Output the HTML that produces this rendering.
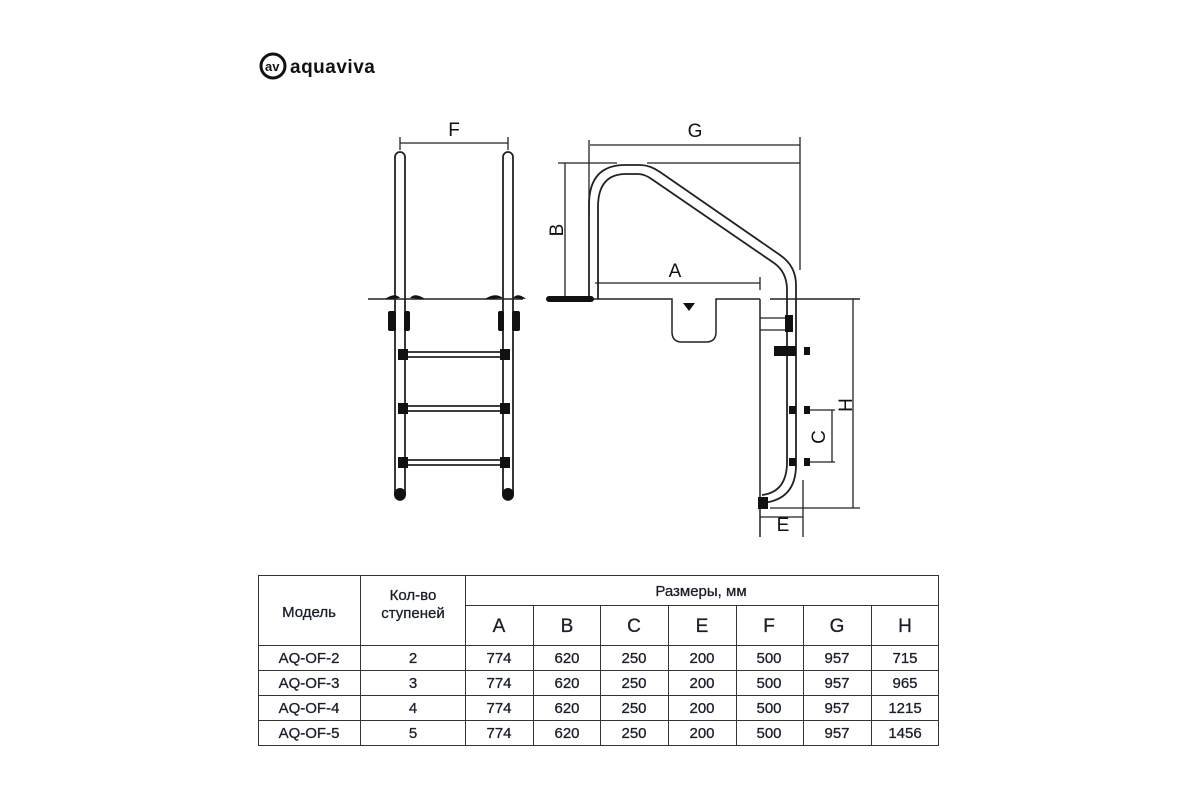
<!DOCTYPE html>
<html><head><meta charset="utf-8"><style>
body{margin:0;width:1200px;height:800px;background:#fff;overflow:hidden;font-family:"Liberation Sans",sans-serif}
svg{position:absolute;left:0;top:0}
</style></head><body>
<svg width="1200" height="800" viewBox="0 0 1200 800" font-family="Liberation Sans, sans-serif">
<!-- logo -->
<circle cx="273" cy="66" r="12" fill="none" stroke="#111" stroke-width="3"/>
<text x="265" y="71" font-size="13" font-weight="bold" fill="#111">av</text>
<text x="290" y="73" font-size="19" font-weight="bold" fill="#111" letter-spacing="0.5">aquaviva</text>

<g stroke="#222" fill="none" stroke-width="1.3">
<!-- FRONT VIEW -->
<line x1="400" y1="143" x2="508" y2="143"/>
<line x1="400" y1="137" x2="400" y2="150"/><line x1="508" y1="137" x2="508" y2="150"/>
<rect x="395" y="152" width="10" height="348" rx="5" stroke-width="1.8"/>
<rect x="503" y="152" width="10" height="348" rx="5" stroke-width="1.8"/>
<line x1="368" y1="299" x2="523" y2="299" stroke-width="1.5"/>
<g stroke-width="1.8">
<line x1="405" y1="352" x2="503" y2="352"/><line x1="405" y1="357" x2="503" y2="357"/>
<line x1="405" y1="406" x2="503" y2="406"/><line x1="405" y1="411" x2="503" y2="411"/>
<line x1="405" y1="460" x2="503" y2="460"/><line x1="405" y1="465" x2="503" y2="465"/>
</g>

<!-- SIDE VIEW -->
<line x1="590" y1="145" x2="800" y2="145"/>
<line x1="589" y1="140" x2="589" y2="215"/>
<line x1="800" y1="137" x2="800" y2="270"/>
<line x1="558" y1="163" x2="617" y2="163"/><line x1="647" y1="163" x2="800" y2="163"/>
<line x1="565" y1="163" x2="565" y2="299"/>
<line x1="595" y1="283" x2="760" y2="283"/><line x1="760" y1="277" x2="760" y2="290"/>
<path d="M593 299 H672 V332 Q672 342 682 342 H706 Q716 342 716 332 V299 H760" stroke-width="1.5"/>
<line x1="770" y1="299" x2="860" y2="299" stroke-width="1.5"/>
<line x1="760" y1="299" x2="760" y2="537" stroke-width="1.5"/>
<path d="M589 299 V205 Q589 165 625 165 H640 Q650 165 660 172 L780 255 Q796 266 796 285 V465 Q796 500 762 503" stroke-width="1.8"/>
<path d="M598 299 V207 Q598 174 626 174 H638 Q645 174 653 180 L774 263 Q787 272 787 290 V462 Q787 492 762 495" stroke-width="1.8"/>
<path d="M760 318 H788 M760 330 H788"/>
<line x1="853" y1="299" x2="853" y2="508"/>
<line x1="770" y1="508" x2="860" y2="508"/>
<line x1="832" y1="410" x2="832" y2="462"/>
<line x1="805" y1="410" x2="835" y2="410"/><line x1="805" y1="462" x2="835" y2="462"/>
<line x1="803" y1="480" x2="803" y2="537"/>
<line x1="760" y1="517" x2="803" y2="517"/>
</g>
<g fill="#111">
<rect x="388" y="311" width="8" height="20" rx="2"/><rect x="404" y="311" width="6" height="20" rx="2"/>
<rect x="498" y="311" width="6" height="20" rx="2"/><rect x="512" y="311" width="8" height="20" rx="2"/>
<path d="M385 299 Q395 292 400 298 Z M410 298 Q415 292 425 299 Z M485 299 Q495 292 503 298 Z M513 298 Q518 292 526 299 Z"/>
<rect x="398" y="349" width="10" height="11"/><rect x="500" y="349" width="10" height="11"/>
<rect x="398" y="403" width="10" height="11"/><rect x="500" y="403" width="10" height="11"/>
<rect x="398" y="457" width="10" height="11"/><rect x="500" y="457" width="10" height="11"/>
<circle cx="400" cy="494" r="6"/><circle cx="508" cy="494" r="6"/>
<rect x="546" y="296" width="48" height="6" rx="3"/>
<path d="M683 303 H695 L689 311 Z"/>
<rect x="785" y="315" width="8" height="17"/>
<rect x="774" y="346" width="22" height="10"/><rect x="804" y="347" width="6" height="8"/>
<rect x="789" y="406" width="7" height="8"/><rect x="804" y="406" width="6" height="8"/>
<rect x="789" y="458" width="7" height="8"/><rect x="804" y="458" width="6" height="8"/>
<rect x="758" y="497" width="10" height="12"/>
</g>
<g font-size="19" fill="#111" text-anchor="middle">
<text x="454" y="136">F</text>
<text x="695" y="137">G</text>
<text x="675" y="277">A</text>
<text x="783" y="531">E</text>
<text transform="translate(556,230) rotate(-90)" y="7">B</text>
<text transform="translate(845,405) rotate(-90)" y="7">H</text>
<text transform="translate(818,437) rotate(-90)" y="7">C</text>
</g>

<!-- TABLE -->
<g stroke="#333" stroke-width="1" fill="none">
<rect x="258.5" y="575.5" width="680" height="170"/>
<line x1="360.5" y1="575" x2="360.5" y2="746"/>
<line x1="465.5" y1="575" x2="465.5" y2="746"/>
<line x1="465" y1="605.5" x2="938" y2="605.5"/>
<line x1="258" y1="645.5" x2="938" y2="645.5"/>
<line x1="258" y1="670.5" x2="938" y2="670.5"/>
<line x1="258" y1="695.5" x2="938" y2="695.5"/>
<line x1="258" y1="720.5" x2="938" y2="720.5"/>
<line x1="533.5" y1="605" x2="533.5" y2="746"/>
<line x1="600.5" y1="605" x2="600.5" y2="746"/>
<line x1="668.5" y1="605" x2="668.5" y2="746"/>
<line x1="736.5" y1="605" x2="736.5" y2="746"/>
<line x1="803.5" y1="605" x2="803.5" y2="746"/>
<line x1="871.5" y1="605" x2="871.5" y2="746"/>
</g>
<g font-size="15" fill="#1a1f2a" text-anchor="middle" stroke="#1a1f2a" stroke-width="0.3">
<text x="309" y="617">Модель</text>
<text x="413" y="600">Кол-во</text>
<text x="413" y="618">ступеней</text>
<text x="701" y="596">Размеры, мм</text>
<g font-size="19"><text x="499" y="632">A</text><text x="567" y="632">B</text><text x="634" y="632">C</text><text x="702" y="632">E</text><text x="769" y="632">F</text><text x="837" y="632">G</text><text x="905" y="632">H</text></g>
<text x="309" y="663">AQ-OF-2</text><text x="413" y="663">2</text>
<text x="309" y="688">AQ-OF-3</text><text x="413" y="688">3</text>
<text x="309" y="713">AQ-OF-4</text><text x="413" y="713">4</text>
<text x="309" y="738">AQ-OF-5</text><text x="413" y="738">5</text>
<text x="499" y="663">774</text><text x="567" y="663">620</text><text x="634" y="663">250</text><text x="702" y="663">200</text><text x="769" y="663">500</text><text x="837" y="663">957</text><text x="905" y="663">715</text>
<text x="499" y="688">774</text><text x="567" y="688">620</text><text x="634" y="688">250</text><text x="702" y="688">200</text><text x="769" y="688">500</text><text x="837" y="688">957</text><text x="905" y="688">965</text>
<text x="499" y="713">774</text><text x="567" y="713">620</text><text x="634" y="713">250</text><text x="702" y="713">200</text><text x="769" y="713">500</text><text x="837" y="713">957</text><text x="905" y="713">1215</text>
<text x="499" y="738">774</text><text x="567" y="738">620</text><text x="634" y="738">250</text><text x="702" y="738">200</text><text x="769" y="738">500</text><text x="837" y="738">957</text><text x="905" y="738">1456</text>
</g>
</svg>
</body></html>
